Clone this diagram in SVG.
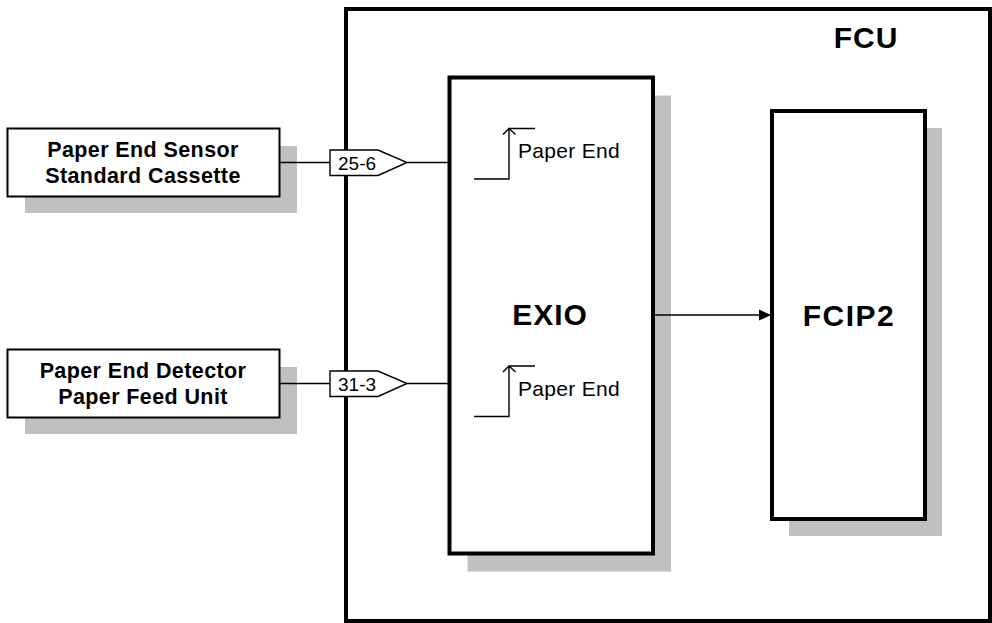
<svg xmlns="http://www.w3.org/2000/svg" width="992" height="623" viewBox="0 0 992 623">
<defs>
<style>
.box{fill:#fff;stroke:#000}
.shadow{fill:#c0c0c0;stroke:none}
.thin{fill:none;stroke:#000;stroke-width:1.4}
.lbl{font-family:"Liberation Sans",Arial,sans-serif;font-weight:bold;fill:#000}
.small{font-family:"Liberation Sans",Arial,sans-serif;fill:#000}
</style>
<marker id="arr" markerWidth="12" markerHeight="12" refX="12" refY="6" orient="auto" markerUnits="userSpaceOnUse">
<path d="M0,0.5 L12,6 L0,11.5 Z" fill="#000"/>
</marker>
</defs>
<rect width="992" height="623" fill="#fff"/>
<g id="fcu">
<rect class="box" x="346" y="9" width="644" height="612" stroke-width="4"/>
<text class="lbl" x="866" y="47.5" font-size="30" text-anchor="middle" letter-spacing="1">FCU</text>
</g>
<g id="sensor-cassette">
<rect class="shadow" x="25" y="146" width="272" height="67"/>
<rect class="box" x="7.5" y="128.5" width="272" height="68" stroke-width="2"/>
<text class="lbl" x="143" y="156.5" font-size="21.5" text-anchor="middle" letter-spacing="0.4">Paper End Sensor</text>
<text class="lbl" x="143" y="182.5" font-size="21.5" text-anchor="middle" letter-spacing="0.4">Standard Cassette</text>
</g>
<g id="detector-feed">
<rect class="shadow" x="25" y="367" width="272" height="67"/>
<rect class="box" x="7.5" y="349.5" width="272" height="68" stroke-width="2"/>
<text class="lbl" x="143" y="377.5" font-size="21.5" text-anchor="middle" letter-spacing="0.4">Paper End Detector</text>
<text class="lbl" x="143" y="403.5" font-size="21.5" text-anchor="middle" letter-spacing="0.4">Paper Feed Unit</text>
</g>
<g id="exio">
<rect class="shadow" x="467.5" y="95.5" width="203.5" height="476"/>
<rect class="box" x="449.5" y="77.5" width="203.5" height="476" stroke-width="4"/>
<text class="lbl" x="550" y="325" font-size="30" text-anchor="middle" letter-spacing="1">EXIO</text>
<path class="thin" d="M474,179 H509 V128.5 H535 M503,134.5 L509,128.5 L515.5,134.5"/>
<text class="small" x="518" y="158" font-size="21" letter-spacing="0.3">Paper End</text>
<path class="thin" d="M474,416.5 H509 V366 H535 M503,372 L509,366 L515.5,372"/>
<text class="small" x="518" y="395.5" font-size="21" letter-spacing="0.3">Paper End</text>
</g>
<g id="fcip2">
<rect class="shadow" x="789" y="128" width="153" height="408"/>
<rect class="box" x="772" y="111" width="153" height="408" stroke-width="4"/>
<text class="lbl" x="849" y="325.5" font-size="30" text-anchor="middle" letter-spacing="1.5">FCIP2</text>
</g>
<g id="connectors">
<line class="thin" x1="279.5" y1="162.5" x2="330" y2="162.5"/>
<line class="thin" x1="407" y1="162.5" x2="449" y2="162.5"/>
<path d="M330,150 H378 L407,162.5 L378,175.5 H330 Z" fill="#fff" stroke="#000" stroke-width="1.4"/>
<text class="small" x="338" y="170" font-size="19">25-6</text>
<line class="thin" x1="279.5" y1="383.5" x2="330" y2="383.5"/>
<line class="thin" x1="407" y1="383.5" x2="449" y2="383.5"/>
<path d="M330,371 H378 L407,383.5 L378,396.5 H330 Z" fill="#fff" stroke="#000" stroke-width="1.4"/>
<text class="small" x="338" y="391" font-size="19">31-3</text>
<line class="thin" x1="655" y1="315" x2="771" y2="315" marker-end="url(#arr)"/>
</g>
</svg>
